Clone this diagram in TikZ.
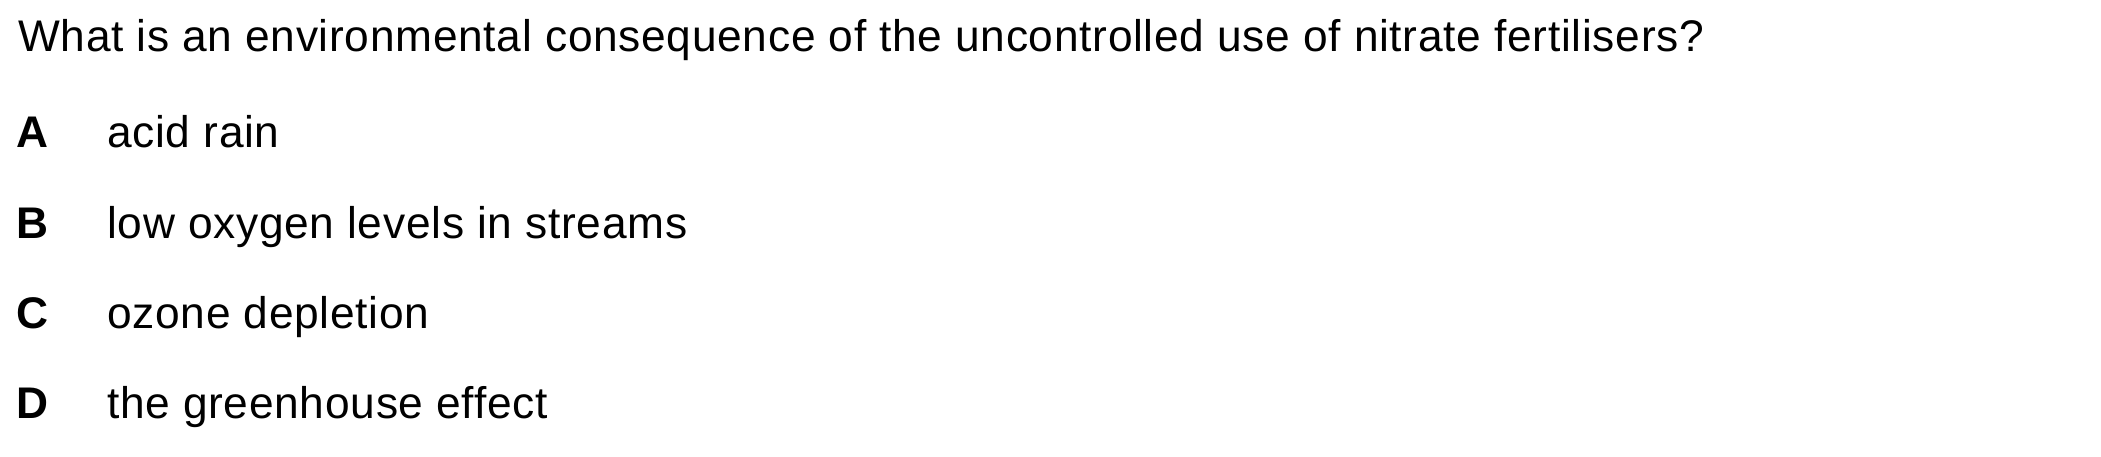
\documentclass[tikz,border=0pt]{standalone}
\usepackage{fontspec}
\setmainfont[LetterSpace=1.6]{Liberation Sans}
\usetikzlibrary{positioning}
\begin{document}
\begin{tikzpicture}[x=1pt,y=1pt,txt/.style={inner sep=0pt,anchor=base west,font=\fontsize{44.3}{53}\selectfont},opt/.style={txt,font=\fontsize{44.3}{53}\selectfont\bfseries}]
		\useasboundingbox (0,0) rectangle (2101,-457);
		\node[txt] (q) at (18,-52) {What is an environmental consequence of the uncontrolled use of nitrate fertilisers?};

		\node[opt] (la) at (16,-148) {A};
		\node[opt] (lb) at (16,-238) {B};
		\node[opt] (lc) at (16,-328) {C};
		\node[opt] (ld) at (16,-418) {D};

		\node[txt] (ta) at (107,-148) {acid rain};
		\node[txt] (tb) at (107,-238) {low oxygen levels in streams};
		\node[txt] (tc) at (107,-328) {ozone depletion};
		\node[txt] (td) at (107,-418) {the greenhouse effect};
	\end{tikzpicture}
\end{document}
